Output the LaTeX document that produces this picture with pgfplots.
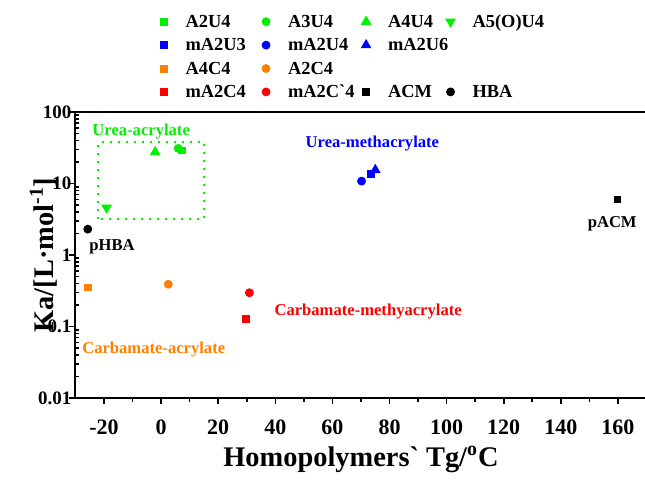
\documentclass[border=0pt]{standalone}
\usepackage{fontspec}
\setmainfont{Liberation Serif}[Ligatures=TeXOff]
\usepackage{pgfplots}
\pgfplotsset{compat=1.18}
\definecolor{cgreen}{RGB}{0,240,0}
\definecolor{cblue}{RGB}{0,0,255}
\definecolor{corange}{RGB}{255,128,0}
\definecolor{cred}{RGB}{255,0,0}
\pgfplotsset{lm/.style={only marks, legend image code/.code={\path (0cm,0cm) (0.5cm,0cm);\draw[mark repeat=2,mark phase=2,##1] plot coordinates {(0cm,0cm)(0.25cm,0cm)(0.5cm,0cm)};}}}
\newcommand{\cA}[1]{\makebox[29.2pt][l]{#1}}
\newcommand{\cB}[1]{\makebox[28pt][l]{#1}}
\newcommand{\cC}[1]{\makebox[20.2pt][l]{#1}}
\begin{document}
\begin{tikzpicture}
\useasboundingbox (-37.75pt,-40.5pt) rectangle (284.75pt,199pt);
\begin{axis}[
  at={(0pt,0pt)}, anchor=south west,
  scale only axis, width=285.5pt, height=143pt,
  xmin=-30, xmax=170, ymin=0.01, ymax=100, ymode=log,
  xtick={-20,0,20,40,60,80,100,120,140,160},
  xticklabels={-20,0,20,40,60,80,100,120,140,160},
  minor xtick={-10,10,30,50,70,90,110,130,150},
  ytick={0.01,0.1,1,10,100},
  yticklabels={0.01,0.1,1,10,100},
  minor ytick={0.02,0.03,0.04,0.05,0.06,0.07,0.08,0.09,0.2,0.3,0.4,0.5,0.6,0.7,0.8,0.9,2,3,4,5,6,7,8,9,20,30,40,50,60,70,80,90},
  tick pos=left, tick align=outside,
  major tick length=3pt, minor tick length=2pt,
  minor y tick style={xshift=2pt},
  every tick/.append style={line width=0.8pt, black},
  axis line style={line width=1pt},
  xticklabel style={font=\bfseries\fontsize{11}{12}\selectfont, yshift=-4.5pt},
  yticklabel style={font=\bfseries\fontsize{9.5}{10}\selectfont, xshift=4.5pt},
  every axis x label/.style={at={(axis description cs:0.5,-0.215)}, anchor=center},
  every axis y label/.style={at={(axis description cs:-0.0560,0.5)}, rotate=90, anchor=center},
  xlabel={\bfseries\fontsize{14.2}{15}\selectfont Homopolymers` Tg/\textsuperscript{o}C},
  ylabel={\bfseries\fontsize{14.2}{15}\selectfont Ka/[L·mol\textsuperscript{-1}]},
  legend columns=4,
  legend style={at={(axis description cs:0.1287,1.3566)}, anchor=north west,
    draw=none, fill=none, inner sep=0pt, outer sep=0pt, column sep=0pt,
    font=\bfseries\fontsize{9.2}{11}\selectfont,
    nodes={inner xsep=3.7pt, inner ysep=1.6pt, text height=7pt, text depth=1.5pt}},
  legend cell align=left,
]
% Urea-acrylate (green)
\addplot[lm, mark=square*, mark size=1.7pt, color=cgreen] coordinates {(7.2,29)};
\addlegendentry{\cA{A2U4}}
\addplot[lm, mark=*, mark size=2pt, color=cgreen] coordinates {(6.0,31)};
\addlegendentry{\cB{A3U4}}
\addplot[lm, mark=triangle*, mark size=2.7pt, color=cgreen] coordinates {(-2.1,27.5)};
\addlegendentry{\cC{A4U4}}
\addplot[lm, mark=triangle*, mark size=2.7pt, mark options={rotate=180}, color=cgreen] coordinates {(-19.1,4.6)};
\addlegendentry{A5(O)U4}
% Urea-methacrylate (blue)
\addplot[lm, mark=square*, mark size=1.7pt, color=cblue] coordinates {(73.6,13.6)};
\addlegendentry{\cA{mA2U3}}
\addplot[lm, mark=*, mark size=2pt, color=cblue] coordinates {(70.2,10.8)};
\addlegendentry{\cB{mA2U4}}
\addplot[lm, mark=triangle*, mark size=2.7pt, color=cblue] coordinates {(75.0,15.5)};
\addlegendentry{\cC{mA2U6}}
\addlegendimage{empty legend}\addlegendentry{}
% Carbamate-acrylate (orange)
\addplot[lm, mark=square*, mark size=1.7pt, color=corange] coordinates {(-25.7,0.353)};
\addlegendentry{\cA{A4C4}}
\addplot[lm, mark=*, mark size=2pt, color=corange] coordinates {(2.5,0.39)};
\addlegendentry{\cB{A2C4}}
\addlegendimage{empty legend}\addlegendentry{}
\addlegendimage{empty legend}\addlegendentry{}
% Carbamate-methacrylate (red)
\addplot[lm, mark=square*, mark size=1.7pt, color=cred] coordinates {(29.8,0.128)};
\addlegendentry{\cA{mA2C4}}
\addplot[lm, mark=*, mark size=2pt, color=cred] coordinates {(30.9,0.297)};
\addlegendentry{\cB{mA2C`4}}
% references (black)
\addplot[lm, mark=square*, mark size=1.7pt, color=black] coordinates {(159.8,6.0)};
\addlegendentry{\cC{ACM}}
\addplot[lm, mark=*, mark size=2pt, color=black] coordinates {(-25.7,2.3)};
\addlegendentry{HBA}
% dotted box
\draw[cgreen, line width=1.1pt, dash pattern=on 1.1pt off 2.9pt] (axis cs:-22,3.2) rectangle (axis cs:15,38);
% annotations
\begin{scope}[every node/.style={font=\bfseries\fontsize{8.3}{9}\selectfont, inner sep=0pt}]
\node[text=cgreen] at (axis cs:-7.0,54) {Urea-acrylate};
\node[text=black] at (axis cs:-17.2,1.31) {pHBA};
\node[text=cblue] at (axis cs:74,35.7) {Urea-methacrylate};
\node[text=black] at (axis cs:158,2.7) {pACM};
\node[text=cred] at (axis cs:72.5,0.16) {Carbamate-methyacrylate};
\node[text=corange] at (axis cs:-2.6,0.047) {Carbamate-acrylate};
\end{scope}
\end{axis}
\end{tikzpicture}
\end{document}
